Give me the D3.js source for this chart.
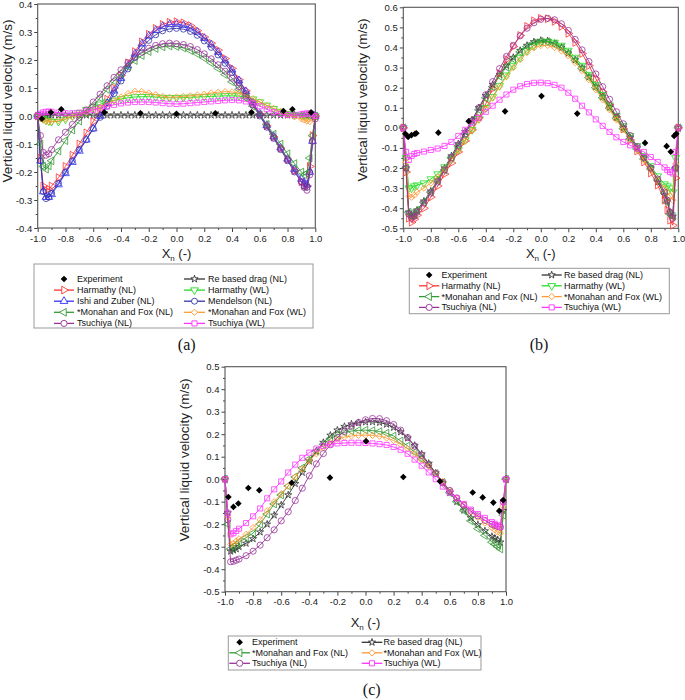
<!DOCTYPE html>
<html>
<head>
<meta charset="utf-8">
<script src="https://cdnjs.cloudflare.com/ajax/libs/d3/7.8.5/d3.min.js"></script>
<style>
body { margin: 0; background: #fff; }
text { font-family: "Liberation Sans", Arial, sans-serif; }
</style>
</head>
<body>
<svg id="chart" width="685" height="700"></svg>
<script>
// x positions of the simulated profiles (same grid in all three panels)
var xGrid = [-1, -0.98, -0.96, -0.94, -0.92, -0.9,
  -0.85, -0.8, -0.75, -0.7, -0.65, -0.6, -0.55, -0.5, -0.45, -0.4, -0.35, -0.3, -0.25, -0.2, -0.15, -0.1, -0.05,
  0,
  0.05, 0.1, 0.15, 0.2, 0.25, 0.3, 0.35, 0.4, 0.45, 0.5, 0.55, 0.6, 0.65, 0.7, 0.75, 0.8, 0.85,
  0.9, 0.92, 0.94, 0.96, 0.98, 1];

var xTicks = [-1, -0.8, -0.6, -0.4, -0.2, 0, 0.2, 0.4, 0.6, 0.8, 1];
var yTicksA = [-0.4, -0.3, -0.2, -0.1, 0, 0.1, 0.2, 0.3, 0.4];
var yTicksB = [-0.5, -0.4, -0.3, -0.2, -0.1, 0, 0.1, 0.2, 0.3, 0.4, 0.5, 0.6];
var yTicksC = [-0.5, -0.4, -0.3, -0.2, -0.1, 0, 0.1, 0.2, 0.3, 0.4, 0.5];

// ---- panel (a)
var aReNL = [0, 0.001, 0.002, 0.002, 0.003, 0.003,
  0.003, 0.003, 0.003, 0.003, 0.003, 0.003, 0.003, 0.003, 0.003, 0.003, 0.003, 0.003, 0.003, 0.003, 0.003, 0.003, 0.003,
  0.003,
  0.003, 0.003, 0.003, 0.003, 0.003, 0.003, 0.003, 0.003, 0.003, 0.003, 0.003, 0.003, 0.003, 0.003, 0.003, 0.003, 0.003,
  0.003, 0.003, 0.002, 0.002, 0.001, 0];
var aHarmNL = [0, -0.15, -0.25, -0.265, -0.262, -0.25,
  -0.22, -0.18, -0.14, -0.1, -0.06, -0.02, 0.02, 0.06, 0.1, 0.145, 0.19, 0.23, 0.265, 0.292, 0.313, 0.327, 0.335,
  0.337,
  0.333, 0.323, 0.305, 0.282, 0.26, 0.235, 0.205, 0.17, 0.13, 0.09, 0.048, 0.006, -0.035, -0.075, -0.115, -0.155, -0.195,
  -0.235, -0.248, -0.25, -0.18, -0.07, 0];
var aHarmWL = [0, -0.005, -0.01, -0.015, -0.018, -0.02,
  -0.02, -0.012, 0, 0.012, 0.022, 0.032, 0.042, 0.05, 0.056, 0.061, 0.065, 0.068, 0.069, 0.069, 0.068, 0.066, 0.065,
  0.065,
  0.066, 0.067, 0.068, 0.069, 0.07, 0.071, 0.072, 0.072, 0.071, 0.067, 0.06, 0.05, 0.038, 0.026, 0.016, 0.008, 0.004,
  0.002, 0.002, 0.003, 0.003, 0.002, 0];
var aIshiNL = [0, -0.16, -0.27, -0.29, -0.29, -0.28,
  -0.245, -0.205, -0.165, -0.125, -0.085, -0.045, 0, 0.045, 0.09, 0.135, 0.18, 0.222, 0.258, 0.286, 0.306, 0.32, 0.327,
  0.328,
  0.324, 0.315, 0.3, 0.278, 0.255, 0.228, 0.198, 0.165, 0.127, 0.088, 0.048, 0.008, -0.033, -0.073, -0.113, -0.153, -0.19,
  -0.225, -0.238, -0.245, -0.2, -0.09, 0];
var aMendNL = [0, -0.16, -0.27, -0.295, -0.29, -0.275,
  -0.24, -0.2, -0.16, -0.12, -0.085, -0.045, -0.005, 0.035, 0.08, 0.125, 0.168, 0.208, 0.243, 0.27, 0.29, 0.304, 0.311,
  0.313,
  0.31, 0.302, 0.288, 0.268, 0.245, 0.218, 0.188, 0.155, 0.118, 0.08, 0.04, 0, -0.04, -0.08, -0.12, -0.16, -0.2,
  -0.235, -0.25, -0.255, -0.2, -0.09, 0];
var aMonNL = [0, -0.1, -0.18, -0.19, -0.178, -0.16,
  -0.125, -0.088, -0.05, -0.018, 0.01, 0.035, 0.065, 0.095, 0.125, 0.152, 0.177, 0.198, 0.216, 0.23, 0.241, 0.247, 0.25,
  0.248,
  0.243, 0.234, 0.222, 0.207, 0.19, 0.17, 0.148, 0.122, 0.095, 0.065, 0.035, 0.005, -0.03, -0.065, -0.1, -0.135, -0.17,
  -0.2, -0.21, -0.205, -0.15, -0.07, 0];
var aMonWL = [0, -0.008, -0.014, -0.018, -0.02, -0.02,
  -0.017, -0.01, -0.002, 0.005, 0.013, 0.022, 0.032, 0.043, 0.055, 0.068, 0.08, 0.088, 0.087, 0.082, 0.076, 0.07, 0.067,
  0.068,
  0.07, 0.072, 0.075, 0.078, 0.082, 0.085, 0.087, 0.086, 0.082, 0.074, 0.062, 0.05, 0.038, 0.027, 0.016, 0.006, -0.003,
  -0.01, -0.014, -0.018, -0.02, -0.01, 0];
var aTsuNL = [0, -0.07, -0.13, -0.14, -0.135, -0.12,
  -0.085, -0.058, -0.03, -0.005, 0.022, 0.05, 0.078, 0.108, 0.138, 0.165, 0.19, 0.211, 0.228, 0.242, 0.252, 0.258, 0.26,
  0.258,
  0.255, 0.248, 0.237, 0.222, 0.204, 0.183, 0.16, 0.135, 0.105, 0.073, 0.04, 0.005, -0.035, -0.075, -0.115, -0.155, -0.195,
  -0.235, -0.255, -0.265, -0.21, -0.09, -0.01];
var aTsuWL = [0, 0.008, 0.013, 0.015, 0.016, 0.015,
  0.012, 0.01, 0.01, 0.012, 0.017, 0.022, 0.028, 0.034, 0.04, 0.045, 0.048, 0.05, 0.05, 0.05, 0.048, 0.046, 0.044,
  0.043,
  0.044, 0.046, 0.048, 0.05, 0.052, 0.054, 0.056, 0.057, 0.056, 0.052, 0.045, 0.035, 0.024, 0.014, 0.007, 0.004, 0.004,
  0.006, 0.008, 0.009, 0.009, 0.006, 0];
var aExpX = [-0.97, -0.905, -0.83, -0.52, -0.26, 0.0, 0.28, 0.54, 0.77, 0.835, 0.97];
var aExpV = [-0.01, 0.013, 0.024, 0.013, 0.01, 0.008, 0.01, 0.013, 0.018, 0.024, 0.013];

// ---- panel (b)
var bReNL = [0, -0.2, -0.42, -0.44, -0.43, -0.41,
  -0.365, -0.315, -0.26, -0.2, -0.14, -0.08, -0.02, 0.04, 0.1, 0.16, 0.215, 0.265, 0.31, 0.35, 0.385, 0.41, 0.428,
  0.435,
  0.433, 0.42, 0.4, 0.372, 0.338, 0.298, 0.253, 0.205, 0.155, 0.103, 0.052, 0, -0.05, -0.1, -0.15, -0.2, -0.27,
  -0.335, -0.365, -0.42, -0.44, -0.2, 0];
var bHarmNL = [0, -0.22, -0.45, -0.47, -0.455, -0.435,
  -0.4, -0.345, -0.29, -0.23, -0.175, -0.12, -0.065, -0.01, 0.05, 0.12, 0.195, 0.27, 0.34, 0.405, 0.46, 0.505, 0.533,
  0.545,
  0.543, 0.53, 0.505, 0.47, 0.425, 0.37, 0.31, 0.245, 0.18, 0.115, 0.055, -0.005, -0.06, -0.115, -0.17, -0.225, -0.285,
  -0.36, -0.41, -0.46, -0.485, -0.25, 0];
var bHarmWL = [0, -0.15, -0.3, -0.3, -0.29, -0.285,
  -0.275, -0.255, -0.23, -0.195, -0.155, -0.11, -0.06, -0.01, 0.045, 0.1, 0.155, 0.21, 0.262, 0.31, 0.35, 0.385, 0.41,
  0.425,
  0.43, 0.425, 0.41, 0.385, 0.35, 0.31, 0.265, 0.215, 0.165, 0.113, 0.06, 0.01, -0.04, -0.09, -0.14, -0.19, -0.24,
  -0.28, -0.29, -0.3, -0.32, -0.15, 0];
var bMonNL = [0, -0.2, -0.42, -0.44, -0.43, -0.41,
  -0.37, -0.32, -0.265, -0.21, -0.15, -0.09, -0.03, 0.03, 0.09, 0.15, 0.205, 0.257, 0.303, 0.343, 0.378, 0.405, 0.423,
  0.43,
  0.428, 0.417, 0.398, 0.37, 0.335, 0.295, 0.25, 0.2, 0.15, 0.098, 0.047, -0.004, -0.055, -0.105, -0.155, -0.205, -0.26,
  -0.325, -0.37, -0.43, -0.44, -0.2, 0];
var bMonWL = [0, -0.17, -0.34, -0.345, -0.335, -0.32,
  -0.3, -0.275, -0.245, -0.205, -0.16, -0.115, -0.065, -0.015, 0.04, 0.095, 0.15, 0.205, 0.255, 0.3, 0.34, 0.375, 0.398,
  0.41,
  0.41, 0.4, 0.383, 0.358, 0.325, 0.285, 0.24, 0.19, 0.14, 0.09, 0.04, -0.01, -0.06, -0.11, -0.16, -0.21, -0.26,
  -0.3, -0.32, -0.34, -0.36, -0.18, 0];
var bTsuNL = [0, -0.2, -0.43, -0.45, -0.44, -0.42,
  -0.375, -0.325, -0.27, -0.21, -0.15, -0.09, -0.03, 0.035, 0.1, 0.165, 0.23, 0.295, 0.355, 0.41, 0.458, 0.496, 0.523,
  0.54,
  0.545, 0.538, 0.518, 0.485, 0.44, 0.388, 0.33, 0.268, 0.205, 0.142, 0.08, 0.02, -0.038, -0.093, -0.147, -0.2, -0.255,
  -0.32, -0.36, -0.42, -0.45, -0.2, 0];
var bTsuWL = [0, -0.12, -0.16, -0.14, -0.13, -0.125,
  -0.118, -0.11, -0.103, -0.09, -0.07, -0.04, -0.01, 0.025, 0.05, 0.08, 0.11, 0.14, 0.166, 0.19, 0.207, 0.218, 0.224,
  0.225,
  0.222, 0.214, 0.2, 0.175, 0.145, 0.11, 0.077, 0.042, 0.01, -0.02, -0.047, -0.07, -0.087, -0.103, -0.12, -0.145, -0.17,
  -0.197, -0.21, -0.22, -0.227, -0.12, 0];
var bExpX = [-0.985, -0.965, -0.94, -0.915, -0.905, -0.745, -0.525, -0.26, 0.005, 0.265, 0.758, 0.915, 0.945, 0.97, 0.985];
var bExpV = [-0.03, -0.045, -0.036, -0.03, -0.027, -0.024, 0.033, 0.082, 0.158, 0.071, -0.075, -0.091, -0.119, -0.04, -0.03];

// ---- panel (c)
var cReNL = [0, -0.15, -0.32, -0.315, -0.31, -0.3,
  -0.285, -0.265, -0.235, -0.2, -0.16, -0.115, -0.07, -0.02, 0.03, 0.08, 0.125, 0.163, 0.195, 0.218, 0.234, 0.245, 0.251,
  0.254,
  0.255, 0.252, 0.244, 0.23, 0.21, 0.183, 0.15, 0.112, 0.07, 0.027, -0.017, -0.06, -0.1, -0.138, -0.172, -0.203, -0.23,
  -0.255, -0.263, -0.27, -0.28, -0.14, 0];
var cMonNL = [0, -0.2, -0.31, -0.3, -0.29, -0.28,
  -0.26, -0.24, -0.2, -0.155, -0.11, -0.07, -0.03, 0.01, 0.05, 0.09, 0.125, 0.155, 0.18, 0.197, 0.208, 0.214, 0.217,
  0.218,
  0.216, 0.212, 0.205, 0.192, 0.17, 0.148, 0.12, 0.09, 0.06, 0.025, -0.015, -0.06, -0.1, -0.14, -0.185, -0.22, -0.25,
  -0.28, -0.29, -0.3, -0.31, -0.16, 0];
var cMonWL = [0, -0.17, -0.29, -0.285, -0.275, -0.265,
  -0.245, -0.215, -0.18, -0.14, -0.1, -0.065, -0.03, 0.01, 0.045, 0.08, 0.113, 0.14, 0.162, 0.177, 0.187, 0.192, 0.195,
  0.196,
  0.195, 0.191, 0.183, 0.172, 0.155, 0.135, 0.112, 0.085, 0.058, 0.025, -0.01, -0.05, -0.085, -0.115, -0.145, -0.17, -0.195,
  -0.215, -0.225, -0.235, -0.24, -0.12, 0];
var cTsuNL = [0, -0.18, -0.367, -0.365, -0.36, -0.355,
  -0.34, -0.32, -0.293, -0.26, -0.225, -0.185, -0.145, -0.095, -0.04, 0.015, 0.068, 0.114, 0.153, 0.186, 0.213, 0.235, 0.252,
  0.264,
  0.27, 0.269, 0.26, 0.243, 0.218, 0.185, 0.147, 0.106, 0.065, 0.025, -0.015, -0.05, -0.083, -0.115, -0.142, -0.163, -0.183,
  -0.2, -0.205, -0.21, -0.213, -0.1, 0];
var cTsuWL = [0, -0.15, -0.245, -0.24, -0.23, -0.22,
  -0.195, -0.165, -0.13, -0.085, -0.045, -0.01, 0.03, 0.065, 0.095, 0.118, 0.136, 0.148, 0.155, 0.159, 0.161, 0.162, 0.162,
  0.161,
  0.159, 0.156, 0.152, 0.143, 0.131, 0.113, 0.087, 0.06, 0.03, 0, -0.033, -0.06, -0.085, -0.11, -0.135, -0.155, -0.172,
  -0.19, -0.198, -0.205, -0.212, -0.1, 0];
var cExpX = [-0.976, -0.94, -0.905, -0.834, -0.756, -0.525, -0.253, 0.004, 0.269, 0.53, 0.763, 0.834, 0.91, 0.952, 0.98];
var cExpV = [-0.079, -0.123, -0.108, -0.039, -0.049, -0.016, 0.007, 0.169, 0.01, -0.009, -0.059, -0.081, -0.104, -0.141, -0.093];

// model styles (Origin-like open symbols)
var styles = {
  re:     {name: 'Re based drag (NL)',     color: '#333333', sym: d3.symbolStar,     rot: 0,   size: 16},
  harmNL: {name: 'Harmathy (NL)',          color: '#ff3333', sym: d3.symbolTriangle, rot: 90,  size: 26},
  harmWL: {name: 'Harmathy (WL)',          color: '#22dd22', sym: d3.symbolTriangle, rot: 180, size: 26},
  ishi:   {name: 'Ishi and Zuber (NL)',    color: '#3333ff', sym: d3.symbolTriangle, rot: 0,   size: 26},
  mend:   {name: 'Mendelson (NL)',         color: '#3333aa', sym: d3.symbolCircle,   rot: 0,   size: 28},
  monNL:  {name: '*Monahan and Fox (NL)',  color: '#339933', sym: d3.symbolTriangle, rot: -90, size: 26},
  monWL:  {name: '*Monahan and Fox (WL)',  color: '#ff9933', sym: d3.symbolSquare,   rot: 45,  size: 20},
  tsuNL:  {name: 'Tsuchiya (NL)',          color: '#993399', sym: d3.symbolCircle,   rot: 0,   size: 30},
  tsuWL:  {name: 'Tsuchiya (WL)',          color: '#ff33ff', sym: d3.symbolSquare,   rot: 0,   size: 26}
};

var svg = d3.select('#chart');

function drawPanel(p)
{
  var x = d3.scaleLinear().domain([-1, 1]).range([p.left, p.right]);
  var y = d3.scaleLinear().domain(p.yDomain).range([p.bottom, p.top]);
  var g = svg.append('g');

  var yMinor = p.yTicks.slice(0, -1).map(function(d, i){ return (d + p.yTicks[i + 1]) / 2; });
  var xMinor = xTicks.slice(0, -1).map(function(d, i){ return (d + xTicks[i + 1]) / 2; });

  g.append('g').attr('transform', 'translate(' + p.left + ',0)')
    .call(d3.axisLeft(y).tickValues(yMinor).tickSize(2).tickFormat(''));
  g.append('g').attr('transform', 'translate(' + p.left + ',0)')
    .call(d3.axisLeft(y).tickValues(p.yTicks).tickSize(3.5).tickPadding(2)
      .tickFormat(function(d){ return d.toFixed(1); }));
  g.append('g').attr('transform', 'translate(0,' + p.bottom + ')')
    .call(d3.axisBottom(x).tickValues(xMinor).tickSize(2).tickFormat(''));
  g.append('g').attr('transform', 'translate(0,' + p.bottom + ')')
    .call(d3.axisBottom(x).tickValues(xTicks).tickSize(4).tickPadding(3)
      .tickFormat(function(d){ return d.toFixed(1); }));

  g.selectAll('.domain').remove();
  g.selectAll('.tick line').attr('stroke', '#444');
  g.selectAll('.tick text').style('font-size', '9.5px').attr('fill', '#222')
    .style('font-family', '"Liberation Sans", Arial, sans-serif');

  g.append('rect')
    .attr('x', p.left).attr('y', p.top)
    .attr('width', p.right - p.left).attr('height', p.bottom - p.top)
    .attr('fill', 'none').attr('stroke', '#555').attr('stroke-width', 1.1);

  var line = d3.line().x(function(d){ return x(d[0]); }).y(function(d){ return y(d[1]); });

  p.series.forEach(function(s)
  {
    var st = styles[s.key];
    var pts = xGrid.map(function(xv, i){ return [xv, s.values[i]]; });

    g.append('path').datum(pts)
      .attr('d', line)
      .attr('fill', 'none')
      .attr('stroke', st.color)
      .attr('stroke-width', 0.9);

    g.selectAll(null).data(pts).enter().append('path')
      .attr('transform', function(d){ return 'translate(' + x(d[0]) + ',' + y(d[1]) + ') rotate(' + st.rot + ')'; })
      .attr('d', d3.symbol().type(st.sym).size(st.size))
      .attr('fill', 'none')
      .attr('stroke', st.color)
      .attr('stroke-width', 0.8);
  });

  // measured points
  g.selectAll(null).data(p.expX).enter().append('path')
    .attr('transform', function(d, i){ return 'translate(' + x(d) + ',' + y(p.expV[i]) + ') rotate(45)'; })
    .attr('d', d3.symbol().type(d3.symbolSquare).size(22))
    .attr('fill', '#000');

  // axis titles
  g.append('text')
    .attr('transform', 'translate(' + p.yTitleX + ',' + p.yTitleY + ') rotate(-90)')
    .attr('text-anchor', 'middle')
    .attr('dominant-baseline', 'central')
    .style('font-size', '13.5px')
    .attr('fill', '#222')
    .text('Vertical liquid velocity (m/s)');

  var xt = g.append('text')
    .attr('x', (p.left + p.right) / 2)
    .attr('y', p.xTitleY)
    .attr('text-anchor', 'middle')
    .style('font-size', '13px')
    .attr('fill', '#222');
  xt.append('tspan').text('X');
  xt.append('tspan').text('n').attr('dy', 3).style('font-size', '8px');
  xt.append('tspan').text(' (-)').attr('dy', -3);

  // legend
  var lg = p.legend;
  g.append('rect')
    .attr('x', lg.x).attr('y', lg.y).attr('width', lg.w).attr('height', lg.h)
    .attr('fill', '#fff').attr('stroke', '#999').attr('stroke-width', 1);

  lg.items.forEach(function(it)
  {
    var col = lg.cols[it.col];
    var cy = lg.row0 + it.row * lg.dy;
    var cx = (col.x0 + col.x1) / 2;
    if (it.key == 'exp') {
      g.append('path')
        .attr('transform', 'translate(' + cx + ',' + cy + ') rotate(45)')
        .attr('d', d3.symbol().type(d3.symbolSquare).size(22))
        .attr('fill', '#000');
    } else {
      var st = styles[it.key];
      g.append('line')
        .attr('x1', col.x0).attr('x2', col.x1).attr('y1', cy).attr('y2', cy)
        .attr('stroke', st.color).attr('stroke-width', 1.3);
      g.append('path')
        .attr('transform', 'translate(' + cx + ',' + cy + ') rotate(' + st.rot + ')')
        .attr('d', d3.symbol().type(st.sym).size(st.size))
        .attr('fill', '#fff')
        .attr('stroke', st.color)
        .attr('stroke-width', 0.9);
    }
    g.append('text')
      .attr('x', col.tx).attr('y', cy)
      .attr('dominant-baseline', 'central')
      .style('font-size', '9px')
      .attr('fill', '#111')
      .text(it.key == 'exp' ? 'Experiment' : styles[it.key].name);
  });

  g.append('text')
    .attr('x', p.tag[0]).attr('y', p.tag[1])
    .attr('text-anchor', 'middle')
    .style('font-family', '"Liberation Serif", "Times New Roman", serif')
    .style('font-size', '16px')
    .attr('fill', '#111')
    .text(p.tagText);
}

drawPanel({
  left: 37.7, right: 315.3, top: 4, bottom: 228,
  yDomain: [-0.4, 0.4], yTicks: yTicksA,
  yTitleX: 7, yTitleY: 101, xTitleY: 258,
  series: [
    {key: 're', values: aReNL},
    {key: 'harmNL', values: aHarmNL},
    {key: 'harmWL', values: aHarmWL},
    {key: 'ishi', values: aIshiNL},
    {key: 'mend', values: aMendNL},
    {key: 'monNL', values: aMonNL},
    {key: 'monWL', values: aMonWL},
    {key: 'tsuNL', values: aTsuNL},
    {key: 'tsuWL', values: aTsuWL}
  ],
  expX: aExpX, expV: aExpV,
  legend: {
    x: 34, y: 264, w: 279, h: 64, row0: 279, dy: 11.1,
    cols: [{x0: 54, x1: 74, tx: 77}, {x0: 184, x1: 205, tx: 208}],
    items: [
      {col: 0, row: 0, key: 'exp'}, {col: 1, row: 0, key: 're'},
      {col: 0, row: 1, key: 'harmNL'}, {col: 1, row: 1, key: 'harmWL'},
      {col: 0, row: 2, key: 'ishi'}, {col: 1, row: 2, key: 'mend'},
      {col: 0, row: 3, key: 'monNL'}, {col: 1, row: 3, key: 'monWL'},
      {col: 0, row: 4, key: 'tsuNL'}, {col: 1, row: 4, key: 'tsuWL'}
    ]
  },
  tag: [186.7, 350], tagText: '(a)'
});

drawPanel({
  left: 403.3, right: 678.3, top: 7.3, bottom: 228.3,
  yDomain: [-0.5, 0.6], yTicks: yTicksB,
  yTitleX: 362.5, yTitleY: 100, xTitleY: 258,
  series: [
    {key: 're', values: bReNL},
    {key: 'harmNL', values: bHarmNL},
    {key: 'harmWL', values: bHarmWL},
    {key: 'monNL', values: bMonNL},
    {key: 'monWL', values: bMonWL},
    {key: 'tsuNL', values: bTsuNL},
    {key: 'tsuWL', values: bTsuWL}
  ],
  expX: bExpX, expV: bExpV,
  legend: {
    x: 409.3, y: 268.3, w: 260, h: 45.4, row0: 275, dy: 10.8,
    cols: [{x0: 419, x1: 439.3, tx: 441.5}, {x0: 541.7, x1: 561.7, tx: 564}],
    items: [
      {col: 0, row: 0, key: 'exp'}, {col: 1, row: 0, key: 're'},
      {col: 0, row: 1, key: 'harmNL'}, {col: 1, row: 1, key: 'harmWL'},
      {col: 0, row: 2, key: 'monNL'}, {col: 1, row: 2, key: 'monWL'},
      {col: 0, row: 3, key: 'tsuNL'}, {col: 1, row: 3, key: 'tsuWL'}
    ]
  },
  tag: [539, 350], tagText: '(b)'
});

drawPanel({
  left: 225, right: 506, top: 366.7, bottom: 591.7,
  yDomain: [-0.5, 0.5], yTicks: yTicksC,
  yTitleX: 184, yTitleY: 460, xTitleY: 627,
  series: [
    {key: 're', values: cReNL},
    {key: 'monNL', values: cMonNL},
    {key: 'monWL', values: cMonWL},
    {key: 'tsuNL', values: cTsuNL},
    {key: 'tsuWL', values: cTsuWL}
  ],
  expX: cExpX, expV: cExpV,
  legend: {
    x: 228.3, y: 636, w: 252.7, h: 34, row0: 642.3, dy: 10.5,
    cols: [{x0: 229.3, x1: 250, tx: 252}, {x0: 361.7, x1: 382.3, tx: 383.5}],
    items: [
      {col: 0, row: 0, key: 'exp'}, {col: 1, row: 0, key: 're'},
      {col: 0, row: 1, key: 'monNL'}, {col: 1, row: 1, key: 'monWL'},
      {col: 0, row: 2, key: 'tsuNL'}, {col: 1, row: 2, key: 'tsuWL'}
    ]
  },
  tag: [371.7, 695], tagText: '(c)'
});
</script>
</body>
</html>
